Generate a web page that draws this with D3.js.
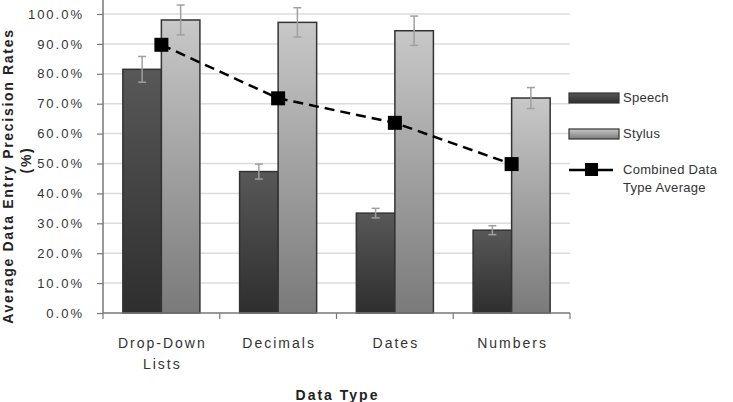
<html>
<head>
  <meta charset="utf-8">
  <title>Data Entry Precision</title>
  <style>
    html, body { margin: 0; padding: 0; background: #fff; }
    svg { display: block; font-family: "Liberation Sans", Arial, sans-serif; }
  </style>
  <script src="https://d3js.org/d3.v7.min.js"></script>
</head>
<body>
<svg id="chart" width="733" height="402"></svg>
<script>
  // data
  var categories = ["Drop-Down|Lists", "Decimals", "Dates", "Numbers"];
  var speech = [81.5, 47.3, 33.4, 27.7];
  var speechErr = [4.3, 2.5, 1.6, 1.5];
  var stylus = [98.0, 97.2, 94.4, 71.9];
  var stylusErr = [5.0, 4.9, 4.9, 3.5];
  var combined = [89.7, 71.8, 63.6, 49.8];
  var yTicks = [0, 10, 20, 30, 40, 50, 60, 70, 80, 90, 100];

  (function () {
  var svg = d3.select("#chart");
  var mLeft = 103, mRight = 570, mTop = 14, mBottom = 313;

  var x = d3.scaleBand().domain(categories).range([mLeft, mRight]);
  var y = d3.scaleLinear().domain([0, 100]).range([mBottom, mTop]);
  var bw = x.bandwidth() * 0.33;
  var pad = x.bandwidth() * 0.17;

  var defs = svg.append("defs");
  function grad(id, c1, c2) {
    var g = defs.append("linearGradient").attr("id", id)
      .attr("x1", 0).attr("y1", 0).attr("x2", 0).attr("y2", 1);
    g.append("stop").attr("offset", "0%").attr("stop-color", c1);
    g.append("stop").attr("offset", "100%").attr("stop-color", c2);
  }
  grad("gSpeech", "#585858", "#2e2e2e");
  grad("gStylus", "#c8c8c8", "#7a7a7a");

  // gridlines
  svg.append("g").selectAll("line").data(yTicks.slice(1)).enter().append("line")
    .attr("x1", mLeft).attr("x2", mRight)
    .attr("y1", d => y(d)).attr("y2", d => y(d))
    .attr("stroke", "#dcdcdc").attr("stroke-width", 1.5);

  // y axis
  var yAxis = d3.axisLeft(y).tickValues(yTicks).tickSize(6).tickPadding(13)
    .tickFormat(d => d.toFixed(1) + "%");
  var ya = svg.append("g").attr("transform", "translate(" + mLeft + ",0)").call(yAxis);
  ya.select(".domain").remove();
  ya.selectAll(".tick line").attr("stroke", "#777").attr("stroke-width", 1.2);
  ya.selectAll("text").attr("font-size", 13).attr("fill", "#333").attr("letter-spacing", 2)
    .attr("font-family", "Liberation Sans, Arial, sans-serif");
  svg.append("line").attr("x1", mLeft).attr("x2", mLeft).attr("y1", 0).attr("y2", mBottom)
    .attr("stroke", "#777").attr("stroke-width", 1.5);

  // bars
  function bars(vals, errs, fill, off) {
    var g = svg.append("g");
    g.selectAll("rect").data(vals).enter().append("rect")
      .attr("x", (d, i) => x(categories[i]) + pad + off)
      .attr("y", d => y(d))
      .attr("width", bw)
      .attr("height", d => y(0) - y(d))
      .attr("fill", fill)
      .attr("stroke", "#333").attr("stroke-width", 1.5);
    var e = svg.append("g").attr("stroke", "#a0a0a0").attr("stroke-width", 1.5);
    vals.forEach(function (v, i) {
      var cx = x(categories[i]) + pad + off + bw / 2;
      e.append("line").attr("x1", cx).attr("x2", cx).attr("y1", y(v + errs[i])).attr("y2", y(v - errs[i]));
      e.append("line").attr("x1", cx - 4).attr("x2", cx + 4).attr("y1", y(v + errs[i])).attr("y2", y(v + errs[i]));
      e.append("line").attr("x1", cx - 4).attr("x2", cx + 4).attr("y1", y(v - errs[i])).attr("y2", y(v - errs[i]));
    });
  }
  bars(speech, speechErr, "url(#gSpeech)", 0);
  bars(stylus, stylusErr, "url(#gStylus)", bw);

  // x axis
  svg.append("line").attr("x1", mLeft).attr("x2", mRight).attr("y1", mBottom).attr("y2", mBottom)
    .attr("stroke", "#777").attr("stroke-width", 1.5);
  var xt = categories.map(c => x(c)).concat([mRight]);
  svg.append("g").selectAll("line").data(xt).enter().append("line")
    .attr("x1", d => d).attr("x2", d => d).attr("y1", mBottom).attr("y2", mBottom + 6)
    .attr("stroke", "#777").attr("stroke-width", 1.2);
  categories.forEach(function (c) {
    var t = svg.append("text").attr("text-anchor", "middle").attr("font-size", 14)
      .attr("fill", "#333").attr("letter-spacing", 2);
    c.split("|").forEach(function (s, j) {
      t.append("tspan").attr("x", x(c) + x.bandwidth() / 2 + 1).attr("y", 348 + j * 21).text(s);
    });
  });

  // combined line
  var line = d3.line().x((d, i) => x(categories[i]) + x.bandwidth() / 2).y(d => y(d));
  svg.append("path").datum(combined).attr("d", line).attr("fill", "none")
    .attr("stroke", "#000").attr("stroke-width", 2.5).attr("stroke-dasharray", "10,6");
  svg.append("g").selectAll("rect").data(combined).enter().append("rect")
    .attr("x", (d, i) => x(categories[i]) + x.bandwidth() / 2 - 7)
    .attr("y", d => y(d) - 7).attr("width", 14).attr("height", 14).attr("fill", "#000");

  // axis titles
  svg.append("text").attr("x", (mLeft + mRight) / 2 + 1).attr("y", 400).attr("text-anchor", "middle")
    .attr("font-size", 14).attr("font-weight", "bold").attr("fill", "#222").attr("letter-spacing", 2)
    .text("Data Type");
  var yt = svg.append("text").attr("transform", "translate(13,176) rotate(-90)")
    .attr("text-anchor", "middle").attr("font-size", 14).attr("font-weight", "bold")
    .attr("fill", "#222").attr("letter-spacing", 1.7);
  yt.append("tspan").attr("x", 0).attr("y", 0).text("Average Data Entry Precision Rates");
  yt.append("tspan").attr("x", 16).attr("y", 18).text("(%)");

  // legend
  var lg = svg.append("g").attr("font-size", 13).attr("fill", "#333").attr("letter-spacing", 0.3);
  lg.append("rect").attr("x", 569).attr("y", 93).attr("width", 50).attr("height", 10)
    .attr("fill", "url(#gSpeech)").attr("stroke", "#333").attr("stroke-width", 1.2);
  lg.append("text").attr("x", 623).attr("y", 102).text("Speech");
  lg.append("rect").attr("x", 569).attr("y", 129).attr("width", 50).attr("height", 10)
    .attr("fill", "url(#gStylus)").attr("stroke", "#333").attr("stroke-width", 1.2);
  lg.append("text").attr("x", 623).attr("y", 138).text("Stylus");
  lg.append("line").attr("x1", 569).attr("x2", 613).attr("y1", 170).attr("y2", 170)
    .attr("stroke", "#000").attr("stroke-width", 2.5);
  lg.append("rect").attr("x", 585).attr("y", 163).attr("width", 13).attr("height", 13).attr("fill", "#000");
  lg.append("text").attr("x", 623).attr("y", 174).text("Combined Data");
  lg.append("text").attr("x", 623).attr("y", 192).text("Type Average");
  })();
</script>
</body>
</html>
